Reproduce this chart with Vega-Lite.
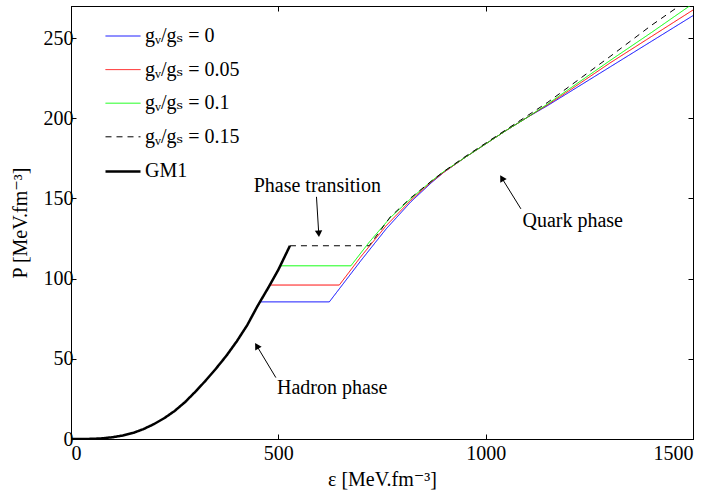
{
  "$schema": "https://vega.github.io/schema/vega-lite/v6.json",
  "width": 622,
  "height": 433,
  "padding": {"left": 10, "top": 5, "right": 5, "bottom": 5},
  "background": "white",
  "config": {
    "view": {"stroke": "black", "strokeWidth": 1},
    "font": "'Liberation Serif', 'Times New Roman', 'DejaVu Serif', serif",
    "axis": {
      "labelFont": "'Liberation Serif', 'Times New Roman', 'DejaVu Serif', serif", "labelFontSize": 20, "labelColor": "black",
      "titleFont": "'Liberation Serif', 'Times New Roman', 'DejaVu Serif', serif", "titleFontSize": 20, "titleFontWeight": "normal", "titleColor": "black",
      "domainColor": "black", "tickColor": "black", "grid": false, "tickSize": -5, "labelPadding": 3, "format": "d"
    },
    "legend": {
      "orient": "none", "legendX": 33, "legendY": 12,
      "labelFont": "'Liberation Serif', 'Times New Roman', 'DejaVu Serif', serif", "labelFontSize": 20, "labelColor": "black",
      "symbolType": "stroke", "symbolSize": 1225, "rowPadding": 5.6, "labelOffset": 3, "padding": 0
    }
  },
  "datasets": {
    "curves": [
      {"series": "0", "e": 454, "p": 85.5},
      {"series": "0", "e": 623, "p": 85.5},
      {"series": "0", "e": 660, "p": 98},
      {"series": "0", "e": 700, "p": 111.5},
      {"series": "0", "e": 760, "p": 131},
      {"series": "0", "e": 820, "p": 148},
      {"series": "0", "e": 870, "p": 160},
      {"series": "0", "e": 900, "p": 166.5},
      {"series": "0", "e": 950, "p": 175.5},
      {"series": "0", "e": 1000, "p": 184},
      {"series": "0", "e": 1050, "p": 192.5},
      {"series": "0", "e": 1100, "p": 200.5},
      {"series": "0", "e": 1150, "p": 208},
      {"series": "0", "e": 1200, "p": 216},
      {"series": "0", "e": 1300, "p": 232},
      {"series": "0", "e": 1400, "p": 248},
      {"series": "0", "e": 1500, "p": 264},
      {"series": "0.05", "e": 482, "p": 96},
      {"series": "0.05", "e": 647, "p": 96},
      {"series": "0.05", "e": 700, "p": 114},
      {"series": "0.05", "e": 760, "p": 133},
      {"series": "0.05", "e": 820, "p": 149},
      {"series": "0.05", "e": 870, "p": 160.5},
      {"series": "0.05", "e": 900, "p": 166.5},
      {"series": "0.05", "e": 950, "p": 175.5},
      {"series": "0.05", "e": 1000, "p": 184},
      {"series": "0.05", "e": 1050, "p": 192.5},
      {"series": "0.05", "e": 1100, "p": 200.5},
      {"series": "0.05", "e": 1150, "p": 208.5},
      {"series": "0.05", "e": 1200, "p": 217},
      {"series": "0.05", "e": 1300, "p": 234.5},
      {"series": "0.05", "e": 1400, "p": 251},
      {"series": "0.05", "e": 1500, "p": 267.5},
      {"series": "0.1", "e": 506, "p": 108},
      {"series": "0.1", "e": 675, "p": 108},
      {"series": "0.1", "e": 720, "p": 123},
      {"series": "0.1", "e": 770, "p": 138},
      {"series": "0.1", "e": 820, "p": 150},
      {"series": "0.1", "e": 870, "p": 161},
      {"series": "0.1", "e": 900, "p": 167},
      {"series": "0.1", "e": 950, "p": 175.5},
      {"series": "0.1", "e": 1000, "p": 184},
      {"series": "0.1", "e": 1050, "p": 192.5},
      {"series": "0.1", "e": 1100, "p": 200.5},
      {"series": "0.1", "e": 1150, "p": 209},
      {"series": "0.1", "e": 1200, "p": 218},
      {"series": "0.1", "e": 1300, "p": 236},
      {"series": "0.1", "e": 1400, "p": 253.5},
      {"series": "0.1", "e": 1500, "p": 271.5},
      {"series": "0.15", "e": 528, "p": 120.5},
      {"series": "0.15", "e": 719, "p": 120.5},
      {"series": "0.15", "e": 770, "p": 138.5},
      {"series": "0.15", "e": 820, "p": 150.5},
      {"series": "0.15", "e": 870, "p": 161},
      {"series": "0.15", "e": 900, "p": 167},
      {"series": "0.15", "e": 950, "p": 176},
      {"series": "0.15", "e": 1000, "p": 184.5},
      {"series": "0.15", "e": 1050, "p": 193},
      {"series": "0.15", "e": 1100, "p": 201.5},
      {"series": "0.15", "e": 1150, "p": 210},
      {"series": "0.15", "e": 1200, "p": 219.5},
      {"series": "0.15", "e": 1300, "p": 238.5},
      {"series": "0.15", "e": 1400, "p": 258},
      {"series": "0.15", "e": 1500, "p": 276},
      {"series": "GM1", "e": 0, "p": 0},
      {"series": "GM1", "e": 25, "p": 0},
      {"series": "GM1", "e": 50, "p": 0.1},
      {"series": "GM1", "e": 75, "p": 0.4},
      {"series": "GM1", "e": 100, "p": 1.1},
      {"series": "GM1", "e": 125, "p": 2.2},
      {"series": "GM1", "e": 150, "p": 3.8},
      {"series": "GM1", "e": 175, "p": 6.2},
      {"series": "GM1", "e": 200, "p": 9.3},
      {"series": "GM1", "e": 225, "p": 13},
      {"series": "GM1", "e": 250, "p": 17.5},
      {"series": "GM1", "e": 275, "p": 23},
      {"series": "GM1", "e": 300, "p": 29.5},
      {"series": "GM1", "e": 325, "p": 36.5},
      {"series": "GM1", "e": 350, "p": 44},
      {"series": "GM1", "e": 375, "p": 52},
      {"series": "GM1", "e": 400, "p": 61},
      {"series": "GM1", "e": 425, "p": 71},
      {"series": "GM1", "e": 450, "p": 83},
      {"series": "GM1", "e": 475, "p": 94},
      {"series": "GM1", "e": 500, "p": 105.5},
      {"series": "GM1", "e": 528, "p": 120.5}
    ],
    "arrows": [
      {"name": "phase", "e": 592, "p": 151, "e2": 597.5, "p2": 128},
      {"name": "quark", "e": 1085, "p": 143.5, "e2": 1039, "p2": 162.7},
      {"name": "hadron", "e": 494, "p": 38.3, "e2": 448, "p2": 58.1}
    ],
    "notes": [
      {"text": "Phase transition", "e": 594, "p": 157.5},
      {"text": "Quark phase", "e": 1210, "p": 136},
      {"text": "Hadron phase", "e": 630, "p": 32}
    ]
  },
  "layer": [
    {
      "data": {"name": "curves"},
      "mark": {"type": "line", "clip": true},
      "encoding": {
        "x": {"field": "e", "type": "quantitative", "scale": {"domain": [0, 1500], "nice": false},
              "axis": {"orient": "bottom", "values": [0, 500, 1000, 1500], "title": "ε [MeV.fm⁻³]", "titlePadding": 6, "labelPadding": 9}},
        "y": {"field": "p", "type": "quantitative", "scale": {"domain": [0, 270], "nice": false},
              "axis": {"orient": "left", "values": [0, 50, 100, 150, 200, 250], "title": "P [MeV.fm⁻³]", "titlePadding": 13}},
        "color": {"field": "series", "type": "nominal",
                  "scale": {"domain": ["0", "0.05", "0.1", "0.15", "GM1"], "range": ["#0000ff", "#ff0000", "#00ff00", "#000000", "#000000"]},
                  "legend": {"title": null, "labelExpr": "datum.label == 'GM1' ? 'GM1' : 'gᵥ/gₛ = ' + datum.label"}},
        "strokeDash": {"field": "series", "type": "nominal",
                  "scale": {"domain": ["0", "0.05", "0.1", "0.15", "GM1"], "range": [[1, 0], [1, 0], [1, 0], [6, 5], [1, 0]]},
                  "legend": {"title": null, "labelExpr": "datum.label == 'GM1' ? 'GM1' : 'gᵥ/gₛ = ' + datum.label"}},
        "strokeWidth": {"field": "series", "type": "ordinal",
                  "scale": {"type": "ordinal", "domain": ["0", "0.05", "0.1", "0.15", "GM1"], "range": [1, 1, 1, 1, 2.5]},
                  "legend": {"title": null, "labelExpr": "datum.label == 'GM1' ? 'GM1' : 'gᵥ/gₛ = ' + datum.label"}}
      }
    },
    {
      "data": {"name": "arrows"},
      "mark": {"type": "rule", "color": "black", "strokeWidth": 1},
      "encoding": {
        "x": {"field": "e", "type": "quantitative", "axis": {"orient": "top", "values": [0, 500, 1000, 1500], "labels": false, "title": null}},
        "y": {"field": "p", "type": "quantitative", "axis": {"orient": "right", "values": [0, 50, 100, 150, 200, 250], "labels": false, "title": null}},
        "x2": {"field": "e2"},
        "y2": {"field": "p2"}
      }
    },
    {
      "data": {"name": "arrows"},
      "transform": [{"filter": "datum.name == 'phase'"}],
      "mark": {"type": "point", "shape": "triangle-up", "filled": true, "color": "black", "size": 55, "angle": 176, "opacity": 1},
      "encoding": {
        "x": {"field": "e2", "type": "quantitative", "axis": null},
        "y": {"field": "p2", "type": "quantitative", "axis": null}
      }
    },
    {
      "data": {"name": "arrows"},
      "transform": [{"filter": "datum.name != 'phase'"}],
      "mark": {"type": "point", "shape": "triangle-up", "filled": true, "color": "black", "size": 55, "angle": 329, "opacity": 1},
      "encoding": {
        "x": {"field": "e2", "type": "quantitative", "axis": null},
        "y": {"field": "p2", "type": "quantitative", "axis": null}
      }
    },
    {
      "data": {"name": "notes"},
      "mark": {"type": "text", "font": "'Liberation Serif', 'Times New Roman', 'DejaVu Serif', serif", "fontSize": 20, "color": "black", "align": "center", "baseline": "middle"},
      "encoding": {
        "x": {"field": "e", "type": "quantitative", "axis": null},
        "y": {"field": "p", "type": "quantitative", "axis": null},
        "text": {"field": "text"}
      }
    }
  ],
  "resolve": {"axis": {"x": "independent", "y": "independent"}}
}
